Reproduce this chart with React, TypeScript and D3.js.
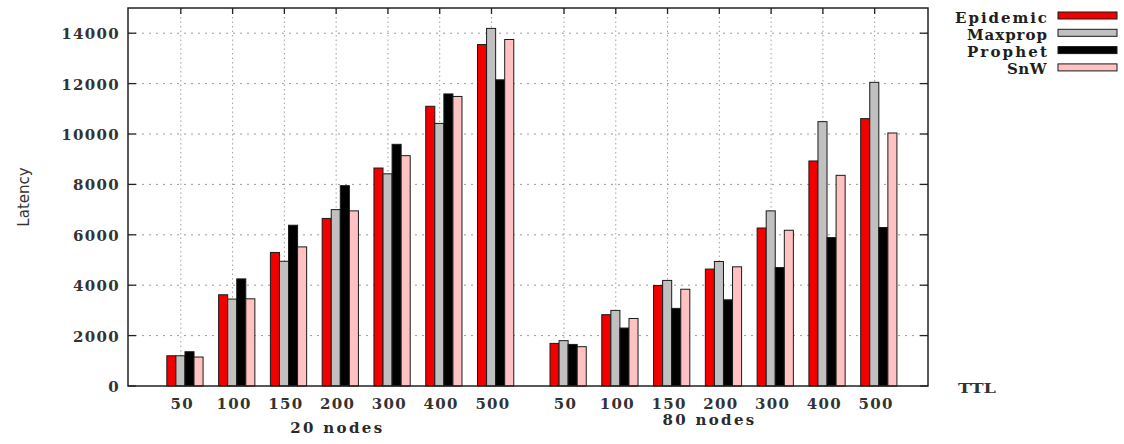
import * as d3 from "d3";

// TTL values on the x axis, repeated for each node-count group
const ttlLabels = ["50", "100", "150", "200", "300", "400", "500"];
const groupLabels = ["20 nodes", "80 nodes"];
const seriesNames = ["Epidemic", "Maxprop", "Prophet", "SnW"];
const seriesColors = ["#f20000", "#c0c0c0", "#000000", "#ffc2c2"];

// latency per TTL, 20 nodes
const epidemic20 = [1200, 3620, 5300, 6650, 8650, 11100, 13550];
const maxprop20 = [1200, 3450, 4950, 7000, 8420, 10420, 14190];
const prophet20 = [1360, 4250, 6380, 7950, 9590, 11590, 12150];
const snw20 = [1150, 3460, 5520, 6950, 9140, 11490, 13750];

// latency per TTL, 80 nodes
const epidemic80 = [1690, 2830, 3990, 4640, 6270, 8930, 10610];
const maxprop80 = [1800, 3000, 4190, 4940, 6950, 10490, 12050];
const prophet80 = [1650, 2300, 3080, 3420, 4700, 5890, 6290];
const snw80 = [1560, 2680, 3840, 4730, 6180, 8360, 10040];

const yTicks = [0, 2000, 4000, 6000, 8000, 10000, 12000, 14000];

const W = 1124;
const H = 444;
const left = 128;
const right = 928;
const top = 8;
const bottom = 386;
const groupGap = 7.4; // slot offset of the second group
const charW = 11.8; // gnuplot's fixed-width cell

const labelFont = "'DejaVu Serif', 'Liberation Serif', serif";

export default function App() {
  const tables = [
    [epidemic20, maxprop20, prophet20, snw20],
    [epidemic80, maxprop80, prophet80, snw80],
  ];

  const x = d3.scaleLinear().domain([-1.02, 14.43]).range([left, right]);
  const y = d3.scaleLinear().domain([0, 15000]).range([bottom, top]);
  const inner = d3.scaleBand().domain(seriesNames).range([-0.27, 0.43]);

  const slots = groupLabels.flatMap((g, gi) =>
    ttlLabels.map((t, i) => ({ group: gi, idx: i, label: t, pos: i + gi * groupGap }))
  );

  const bars = slots.flatMap((s) =>
    seriesNames.map((name, si) => {
      const v = tables[s.group][si][s.idx];
      const x0 = x(s.pos + inner(name)!);
      const x1 = x(s.pos + inner(name)! + inner.bandwidth());
      return { key: `${s.group}-${s.idx}-${si}`, x: x0, w: x1 - x0, y: y(v), h: y(0) - y(v), color: seriesColors[si] };
    })
  );

  const groupCenters = [(x(0) + x(6)) / 2, (x(groupGap) + x(6 + groupGap)) / 2 - 11];
  const groupBaselines = [433, 425];

  // digits: bold serif with a little tracking to fill the fixed cells
  const tickLabel = (text: string, props: any, key: string) => (
    <text key={key} fontFamily={labelFont} fontWeight="bold" fontSize={15} letterSpacing={1.3} fill="#333" {...props}>
      {text}
    </text>
  );

  // words: stretched to the width gnuplot gave them
  const wordLabel = (text: string, props: any, key: string) => (
    <text
      key={key}
      fontFamily={labelFont}
      fontWeight="bold"
      fontSize={15}
      fill="#2a2a2a"
      {...(text.length >= 7 ? { textLength: text.length * charW - 2.5, lengthAdjust: "spacing" } : { letterSpacing: 0.5 })}
      {...props}
    >
      {text}
    </text>
  );

  return (
    <svg
      width={W}
      height={H}
      style={{ position: "absolute", left: 0, top: 0, background: "#fff", display: "block" }}
    >
      <rect x={0} y={0} width={W} height={H} fill="#fff" />

      {/* grid */}
      {yTicks.slice(1).map((t) => (
        <line key={`gy${t}`} x1={left} x2={right} y1={y(t)} y2={y(t)} stroke="#9a9a9a" strokeWidth={1} strokeDasharray="2,5" />
      ))}
      {slots.map((s) => (
        <line key={`gx${s.group}-${s.idx}`} x1={x(s.pos)} x2={x(s.pos)} y1={top} y2={bottom} stroke="#a0a0a0" strokeWidth={1} strokeDasharray="1.5,3" />
      ))}

      {/* ticks */}
      {yTicks.map((t) => (
        <g key={`ty${t}`} stroke="#222" strokeWidth={1.3}>
          <line x1={left} x2={left + 8} y1={y(t)} y2={y(t)} />
          <line x1={right} x2={right - 8} y1={y(t)} y2={y(t)} />
        </g>
      ))}
      {slots.map((s) => (
        <g key={`tx${s.group}-${s.idx}`} stroke="#222" strokeWidth={1.3}>
          <line x1={x(s.pos)} x2={x(s.pos)} y1={top} y2={top + 6} />
          <line x1={x(s.pos)} x2={x(s.pos)} y1={bottom} y2={bottom - 6} />
        </g>
      ))}

      {/* bars */}
      {bars.map((b) => (
        <rect key={b.key} x={b.x} y={b.y} width={b.w} height={b.h} fill={b.color} stroke="#1a1a1a" strokeWidth={1} />
      ))}

      {/* border */}
      <rect x={left} y={top} width={right - left} height={bottom - top} fill="none" stroke="#222" strokeWidth={1.5} />

      {/* y tick labels */}
      {yTicks.map((t) => tickLabel(String(t), { x: 120, y: y(t) + 6, textAnchor: "end" }, `ly${t}`))}

      {/* x tick labels */}
      {slots.map((s) =>
        tickLabel(s.label, { x: x(s.pos) + 1.5, y: 409, textAnchor: "middle" }, `lx${s.group}-${s.idx}`)
      )}
      {groupLabels.map((g, gi) =>
        wordLabel(g, { x: groupCenters[gi], y: groupBaselines[gi], textAnchor: "middle" }, g)
      )}

      {/* axis titles */}
      <text transform="translate(29,197) rotate(-90)" textAnchor="middle" fontFamily="'DejaVu Sans', sans-serif" fontSize={15} fill="#333">
        Latency
      </text>
      <text x={977} y={393} textAnchor="middle" fontFamily={labelFont} fontWeight="bold" fontSize={13} textLength={38} lengthAdjust="spacingAndGlyphs" fill="#333">
        TTL
      </text>

      {/* legend */}
      {seriesNames.map((name, i) => {
        const cy = 15.5 + i * 17.3;
        return (
          <g key={name}>
            {wordLabel(name, { x: 1047, y: cy + 7, textAnchor: "end", fill: "#1e1e1e" }, `lg${name}`)}
            <rect x={1058} y={cy - 3.5} width={59} height={7} fill={seriesColors[i]} stroke="#1a1a1a" strokeWidth={1} />
          </g>
        );
      })}
    </svg>
  );
}
